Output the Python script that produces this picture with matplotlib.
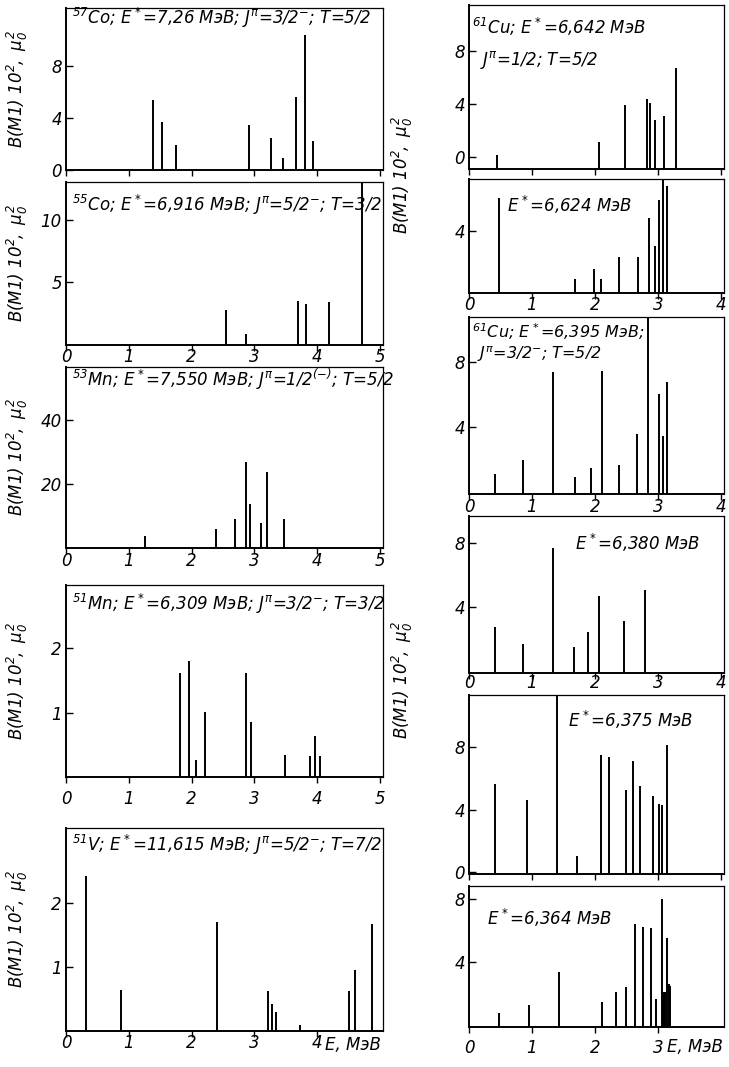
import numpy as np
import matplotlib
matplotlib.use('Agg')
import matplotlib.pyplot as plt
from matplotlib import font_manager

names = {f.name for f in font_manager.fontManager.ttflist}
FAM = 'Liberation Sans Narrow' if 'Liberation Sans Narrow' in names else 'DejaVu Sans'
plt.rcParams['font.family'] = [FAM, 'DejaVu Sans']
plt.rcParams['font.style'] = 'italic'
plt.rcParams['mathtext.fontset'] = 'custom'
plt.rcParams['mathtext.rm'] = FAM + ':italic'
plt.rcParams['mathtext.it'] = FAM + ':italic'

# --- left column: energies (MeV) and B(M1)*10^2 ---
co57_e = [1.38, 1.53, 1.75, 2.91, 3.26, 3.46, 3.66, 3.80, 3.93]
co57_b = [5.4, 3.7, 1.9, 3.45, 2.5, 0.95, 5.65, 10.45, 2.2]

co55_e = [2.55, 2.87, 3.70, 3.82, 4.19, 4.72]
co55_b = [2.8, 0.9, 3.5, 3.3, 3.4, 13.5]

mn53_e = [1.26, 2.39, 2.69, 2.87, 2.93, 3.11, 3.21, 3.47]
mn53_b = [3.8, 5.9, 9.0, 26.7, 13.6, 7.9, 23.8, 9.1]

mn51_e = [1.82, 1.96, 2.07, 2.22, 2.86, 2.95, 3.49, 3.89, 3.96, 4.05]
mn51_b = [1.62, 1.80, 0.27, 1.01, 1.62, 0.86, 0.34, 0.33, 0.63, 0.33]

v51_e = [0.32, 0.88, 2.41, 3.22, 3.28, 3.34, 3.72, 4.51, 4.61, 4.88]
v51_b = [2.42, 0.64, 1.70, 0.63, 0.42, 0.30, 0.09, 0.63, 0.96, 1.67]

# --- right column: 61Cu ---
cu6642_e = [0.45, 2.07, 2.48, 2.83, 2.88, 2.96, 3.09, 3.28]
cu6642_b = [0.15, 1.13, 3.94, 4.36, 4.11, 2.83, 3.13, 6.72]

cu6624_e = [0.47, 1.69, 1.98, 2.09, 2.39, 2.69, 2.86, 2.95, 3.02, 3.08, 3.15]
cu6624_b = [6.09, 0.90, 1.56, 0.92, 2.28, 2.28, 4.81, 2.99, 5.98, 7.6, 6.88]

cu6395_e = [0.42, 0.86, 1.33, 1.69, 1.94, 2.11, 2.39, 2.67, 2.85, 3.01, 3.08, 3.14]
cu6395_b = [1.12, 2.0, 7.39, 0.96, 1.53, 7.49, 1.71, 3.61, 11.0, 6.08, 3.47, 6.79]

cu6380_e = [0.42, 0.86, 1.34, 1.66, 1.89, 2.07, 2.46, 2.79]
cu6380_b = [2.75, 1.71, 7.69, 1.54, 2.44, 4.69, 3.13, 5.09]

cu6375_e = [0.42, 0.92, 1.39, 1.71, 2.10, 2.22, 2.49, 2.61, 2.71, 2.92, 3.02, 3.07, 3.15]
cu6375_b = [5.65, 4.59, 11.5, 1.02, 7.45, 7.37, 5.22, 7.07, 5.52, 4.84, 4.38, 4.31, 8.13]

cu6364_e = [0.48, 0.96, 1.43, 2.12, 2.34, 2.49, 2.64, 2.76, 2.89, 2.97, 3.06,
            3.08, 3.10, 3.12, 3.15, 3.18, 3.20]
cu6364_b = [0.76, 1.29, 3.40, 1.46, 2.10, 2.45, 6.41, 6.26, 6.20, 1.67, 8.02,
            2.1, 2.1, 2.1, 5.52, 2.6, 2.51]

YLAB = r'$B(M1)\ 10^2,\ \mu_0^2$'
W, H = 729, 1067
fig = plt.figure(figsize=(W / 100, H / 100), dpi=100)


def panel(x0, x1, top, bot, e, b, xlim, ylim, yticks, xlab=True, ylabel=False, xpad=0):
    ax = fig.add_axes([x0 / W, 1 - bot / H, (x1 - x0) / W, (bot - top) / H])
    ax.vlines(e, ylim[0], np.minimum(b, ylim[1]), color='black', linewidth=1.4)
    ax.set_xlim(*xlim)
    ax.set_ylim(*ylim)
    ax.set_yticks(yticks)
    ax.set_yticklabels([str(t) for t in yticks], fontsize=12)
    nx = int(xlim[1])
    ax.set_xticks(range(0, nx + 1))
    if xlab:
        ax.set_xticklabels([str(t) for t in range(0, nx + 1)], fontsize=12)
    else:
        ax.set_xticklabels([])
    ax.tick_params(axis='y', direction='in', length=5, width=1, pad=3)
    ax.tick_params(axis='x', direction='out', length=4, width=1, pad=xpad)
    for s in ax.spines.values():
        s.set_linewidth(0.9)
    ax.spines['left'].set_linewidth(1.4)
    ax.spines['bottom'].set_linewidth(1.4)
    if ylabel:
        ax.set_ylabel(YLAB, fontsize=12)
        ax.yaxis.set_label_coords(-0.115, 0.5)
    return ax


# left column
LX0, LX1 = 66, 383
LXL = (0, 5.05)
a1 = panel(LX0, LX1, 8, 170, co57_e, co57_b, LXL, (0, 12.5), [0, 4, 8], xlab=False, ylabel=True)
a1.text(0.02, 0.94, r'$^{57}$Co; $E^*$=7,26 МэВ; $J^{\pi}$=3/2$^{-}$; T=5/2',
        transform=a1.transAxes, fontsize=12, va='center')

a2 = panel(LX0, LX1, 182, 345, co55_e, co55_b, LXL, (0, 13.0), [5, 10], ylabel=True, xpad=-1.5)
a2.text(0.02, 0.86, r'$^{55}$Co; $E^*$=6,916 МэВ; $J^{\pi}$=5/2$^{-}$; T=3/2',
        transform=a2.transAxes, fontsize=12, va='center')

a3 = panel(LX0, LX1, 367, 548, mn53_e, mn53_b, LXL, (0, 56.5), [20, 40], ylabel=True, xpad=-1)
a3.text(0.02, 0.93, r'$^{53}$Mn; $E^*$=7,550 МэВ; $J^{\pi}$=1/2$^{(-)}$; T=5/2',
        transform=a3.transAxes, fontsize=12, va='center')

a4 = panel(LX0, LX1, 585, 777, mn51_e, mn51_b, LXL, (0, 2.98), [1, 2], ylabel=True, xpad=5.5)
a4.text(0.02, 0.9, r'$^{51}$Mn; $E^*$=6,309 МэВ; $J^{\pi}$=3/2$^{-}$; T=3/2',
        transform=a4.transAxes, fontsize=12, va='center')

a5 = panel(LX0, LX1, 828, 1031, v51_e, v51_b, LXL, (0, 3.17), [1, 2], ylabel=True, xpad=-2)
a5.set_xticks([0, 1, 2, 3, 4])
a5.set_xticklabels(['0', '1', '2', '3', '4'], fontsize=12)
a5.text(0.02, 0.915, r'$^{51}$V; $E^*$=11,615 МэВ; $J^{\pi}$=5/2$^{-}$; T=7/2',
        transform=a5.transAxes, fontsize=12, va='center')
a5.text(4.12, -0.025, 'E, МэВ', transform=a5.get_xaxis_transform(), fontsize=12,
        ha='left', va='top')

# right column
RX0, RX1 = 469, 724
RXL = (0, 4.05)
r1 = panel(RX0, RX1, 5, 169, cu6642_e, cu6642_b, RXL, (-0.9, 11.5), [0, 4, 8], xlab=False)
r1.text(0.01, 0.866, r'$^{61}$Cu; $E^*$=6,642 МэВ', transform=r1.transAxes, fontsize=12, va='center')
r1.text(0.045, 0.665, r'$J^{\pi}$=1/2; T=5/2', transform=r1.transAxes, fontsize=12, va='center')

r2 = panel(RX0, RX1, 179, 293, cu6624_e, cu6624_b, RXL, (0, 7.3), [4], xpad=-1.5)
r2.text(0.15, 0.77, r'$E^*$=6,624 МэВ', transform=r2.transAxes, fontsize=12, va='center')

r3 = panel(RX0, RX1, 317, 494, cu6395_e, cu6395_b, RXL, (-0.1, 10.8), [4, 8], xpad=-1)
r3.text(0.01, 0.92, r'$^{61}$Cu; $E^*$=6,395 МэВ;', transform=r3.transAxes, fontsize=11.5, va='center')
r3.text(0.03, 0.79, r'$J^{\pi}$=3/2$^{-}$; T=5/2', transform=r3.transAxes, fontsize=11.5, va='center')

r4 = panel(RX0, RX1, 516, 673, cu6380_e, cu6380_b, RXL, (-0.1, 9.67), [4, 8], xpad=-3)
r4.text(0.415, 0.83, r'$E^*$=6,380 МэВ', transform=r4.transAxes, fontsize=12, va='center')

r5 = panel(RX0, RX1, 695, 874, cu6375_e, cu6375_b, RXL, (-0.1, 11.3), [0, 4, 8], xlab=False)
r5.text(0.39, 0.86, r'$E^*$=6,375 МэВ', transform=r5.transAxes, fontsize=12, va='center')

r6 = panel(RX0, RX1, 886, 1027, cu6364_e, cu6364_b, RXL, (-0.1, 8.84), [4, 8], xpad=4.5)
r6.set_xticks([0, 1, 2, 3])
r6.set_xticklabels(['0', '1', '2', '3'], fontsize=12)
r6.text(0.07, 0.77, r'$E^*$=6,364 МэВ', transform=r6.transAxes, fontsize=12, va='center')
r6.text(3.15, -0.075, 'E, МэВ', transform=r6.get_xaxis_transform(), fontsize=12,
        ha='left', va='top')

# shared y labels of the right column
fig.text(402 / W, 1 - 175 / H, YLAB, rotation=90, fontsize=12, ha='center', va='center')
fig.text(402 / W, 1 - 680 / H, YLAB, rotation=90, fontsize=12, ha='center', va='center')

fig.savefig('out.png', dpi=100, facecolor='white')
